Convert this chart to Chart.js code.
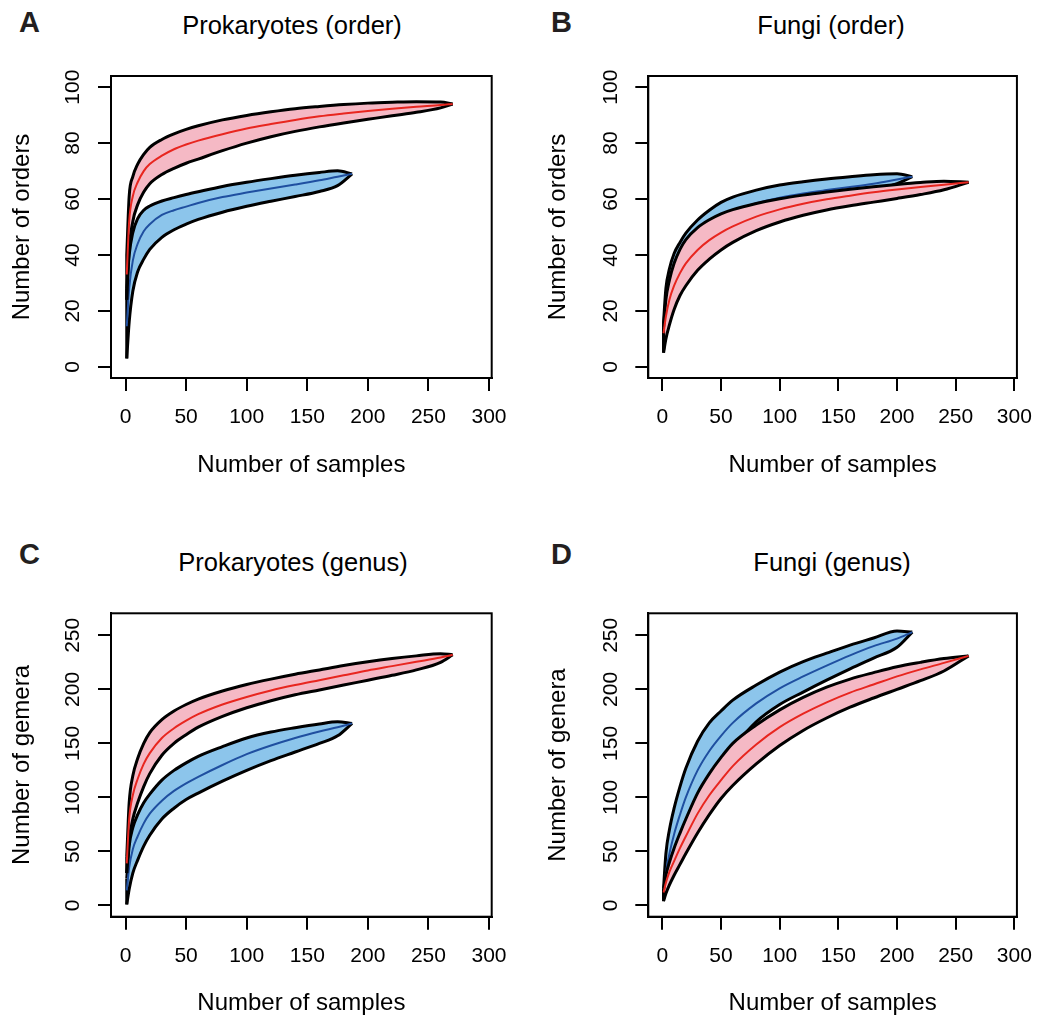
<!doctype html>
<html lang="en">
<head>
<meta charset="utf-8">
<title>Rarefaction curves</title>
<script src="https://cdn.jsdelivr.net/npm/chart.js"></script>
<style>
  body { margin: 0; background: #fff; }
  #page { position: relative; width: 1046px; height: 1019px; overflow: hidden; font-family: 'Liberation Sans', Arial, sans-serif; }
  canvas { position: absolute; }
  .ttl { position: absolute; transform: translate(-50%, -50%); font-size: 25.5px; color: #000; white-space: nowrap; }
  .lab { position: absolute; transform: translateY(-50%); font-size: 29px; font-weight: bold; color: #231f20; }
</style>
</head>
<body>
<div id="page">
  <div class="lab" style="left:19px; top:22px;">A</div>
  <div class="ttl" style="left:292px; top:25px;">Prokaryotes (order)</div>
  <div class="lab" style="left:551px; top:22px;">B</div>
  <div class="ttl" style="left:831px; top:25px;">Fungi (order)</div>
  <div class="lab" style="left:19px; top:554px;">C</div>
  <div class="ttl" style="left:293px; top:562px;">Prokaryotes (genus)</div>
  <div class="lab" style="left:551px; top:554px;">D</div>
  <div class="ttl" style="left:832px; top:562px;">Fungi (genus)</div>

  <canvas id="chartA" width="523" height="509" style="left:0px; top:0px;"></canvas>
  <canvas id="chartB" width="523" height="509" style="left:523px; top:0px;"></canvas>
  <canvas id="chartC" width="523" height="510" style="left:0px; top:509px;"></canvas>
  <canvas id="chartD" width="523" height="510" style="left:523px; top:509px;"></canvas>
</div>

<script>
// ---- data ----
// x = number of samples
const xTicks = [0, 50, 100, 150, 200, 250, 300];
const yTicksOrder = [0, 20, 40, 60, 80, 100];
const yTicksGenus = [0, 50, 100, 150, 200, 250];

const xsProkRed  = [1, 3, 6, 10, 15, 20, 30, 40, 50, 60, 80, 100, 120, 140, 160, 180, 200, 220, 240, 260, 270];
const xsProkBlue = [1, 3, 6, 10, 15, 20, 30, 40, 50, 60, 80, 100, 120, 140, 160, 175, 187];
const xsFungiRed  = [1, 3, 6, 10, 15, 20, 30, 40, 50, 60, 80, 100, 120, 140, 160, 180, 200, 220, 240, 261];
const xsFungiBlue = [1, 3, 6, 10, 15, 20, 30, 40, 50, 60, 80, 100, 120, 140, 160, 180, 200, 213];

// A: Prokaryotes (order)
const aRedMean  = [33, 52, 61, 66, 70, 72.5, 75.5, 77.8, 79.5, 80.9, 83.2, 85.2, 86.8, 88.3, 89.6, 90.6, 91.5, 92.3, 93, 93.6, 94];
const aRedUp    = [40, 61, 68, 72.5, 76, 78.5, 81.3, 83.3, 84.9, 86.2, 88.3, 89.9, 91.2, 92.3, 93.1, 93.8, 94.3, 94.6, 94.8, 94.7, 94];
const aRedLow   = [24, 42, 52, 58, 62.5, 65.5, 68.8, 71, 72.8, 74.3, 77.3, 80, 82.3, 84.2, 85.8, 87.2, 88.5, 89.8, 91, 92.6, 94];
const aBlueMean = [14.5, 28, 38, 44, 48.5, 51, 54.3, 56, 57.3, 58.6, 60.7, 62.3, 63.8, 65.2, 66.7, 68, 69];
const aBlueUp   = [28, 40, 48, 53, 56, 57.5, 59.3, 60.5, 61.6, 62.6, 64.5, 66, 67.3, 68.5, 69.5, 70.1, 69];
const aBlueLow  = [3, 16, 27, 34, 38.5, 42, 46.3, 49, 51, 52.7, 55.3, 57.4, 59.2, 60.9, 62.7, 64.8, 69];

// B: Fungi (order)
const bRedMean  = [12, 18, 24, 29, 33.5, 37, 41.8, 45.3, 48, 50.2, 53.7, 56.3, 58.3, 59.9, 61.2, 62.4, 63.4, 64.3, 65.1, 66];
const bRedUp    = [14, 24, 31, 37, 42, 45.5, 49.8, 52.6, 54.7, 56.2, 58.4, 60.1, 61.4, 62.5, 63.5, 64.4, 65.2, 65.9, 66.4, 66];
const bRedLow   = [5, 10, 15, 20.5, 25.5, 29, 34.5, 38.5, 41.8, 44.5, 48.7, 51.8, 54.2, 56.1, 57.6, 58.9, 60.2, 61.6, 63.3, 66];
const bBlueMean = [10, 20, 28, 34, 39, 42.5, 47.5, 51, 53.8, 55.8, 58.5, 60.5, 62, 63.2, 64.3, 65.5, 67, 68];
const bBlueUp   = [16, 28, 35, 40.5, 44.5, 47.8, 52.5, 56, 58.8, 60.7, 63.2, 65, 66.2, 67.2, 68, 68.7, 69, 68];
const bBlueLow  = [6, 13, 20, 27, 33, 37, 42.5, 46, 49, 51, 54, 56, 58, 59.5, 61, 63, 65.5, 68];

// C: Prokaryotes (genus)
const cRedMean  = [39, 80, 102, 117, 131, 141, 155, 164, 171, 177, 186, 193, 199, 204, 208.5, 213, 217.5, 221.5, 225.5, 229.5, 232];
const cRedUp    = [45, 95, 120, 136, 150, 160, 172, 180, 186, 191, 198.5, 204.5, 209.5, 214, 218, 222, 225.5, 228.5, 231, 233, 232];
const cRedLow   = [30, 60, 80, 95, 110, 122, 139, 150, 158, 165, 175, 183, 189.5, 195, 199.5, 204, 208.5, 213, 218, 225, 232];
const cBlueMean = [14, 35, 52, 64, 76, 85, 97, 106, 113, 119, 130, 140, 148, 155, 161, 165, 168.5];
const cBlueUp   = [25, 55, 72, 84, 95, 103, 116, 125, 132, 138, 147, 155, 160.5, 164.5, 168, 170, 168.5];
const cBlueLow  = [1, 15, 30, 42, 55, 65, 80, 90, 98, 104, 115, 125, 134, 142, 150, 157, 168.5];

// D: Fungi (genus)
const dRedMean  = [12, 21, 31, 41, 53, 64, 85, 102, 116, 129, 149, 165, 177.5, 188, 197, 204.5, 212, 218.5, 224.5, 231];
const dRedUp    = [14, 28, 40, 53, 67, 80, 104, 122, 137, 150, 167, 181, 192.5, 202, 209.5, 215.5, 221, 225, 228.5, 231];
const dRedLow   = [4, 11, 19, 28, 38, 48, 67, 84, 99, 111, 131, 148, 162, 173.5, 183.5, 192, 200, 208, 217, 231];
const dBlueMean = [10, 30, 48, 66, 84, 100, 125, 143, 157, 169, 187, 201, 212, 222, 231.5, 240, 247, 253];
const dBlueUp   = [16, 48, 70, 90, 110, 127, 152, 169, 180, 190, 204, 216, 225.7, 233.5, 241, 247.5, 254, 253];
const dBlueLow  = [6, 14, 24, 36, 52, 68, 97, 116, 132, 146, 170, 186, 197.5, 208.5, 219, 229, 239, 253];

// ---- colours ----
const pinkFill = '#f5b9c5';
const blueFill = '#8cc5eb';
const redLine = '#e8261f';
const blueLine = '#1f4fa0';

Chart.defaults.font.family = "'Liberation Sans', Arial, Helvetica, sans-serif";
Chart.defaults.color = '#000';

// box around the plot region, like R's box()
const boxPlugin = {
  id: 'box',
  afterDraw(chart) {
    const a = chart.chartArea, ctx = chart.ctx;
    ctx.save();
    ctx.strokeStyle = '#000';
    ctx.lineWidth = 2;
    ctx.strokeRect(a.left, a.top, a.right - a.left, a.bottom - a.top);
    ctx.restore();
  }
};

function pts(xs, ys) {
  return xs.map(function(x, i) { return {x: x, y: ys[i]}; });
}

// one shaded band: upper (filled down to lower), lower, closing edge at x=1, mean line
function band(xs, low, mean, up, fillCol, lineCol, base) {
  return [
    { data: pts(xs, up), fill: '+1', backgroundColor: fillCol, borderColor: '#000', borderWidth: 3, order: base + 3 },
    { data: pts(xs, low), fill: false, borderColor: '#000', borderWidth: 3, order: base + 2 },
    { data: [{x: xs[0], y: low[0]}, {x: xs[0], y: up[0]}], fill: false, borderColor: '#000', borderWidth: 3,
      cubicInterpolationMode: 'default', tension: 0, order: base + 1 },
    { data: pts(xs, mean), fill: false, borderColor: lineCol, borderWidth: 2, order: base }
  ];
}

// p: page geometry of the panel
function drawPanel(id, p, yTitle, yMin, yMax, yTicks, bands) {
  const lh = 24 * 1.2;
  new Chart(document.getElementById(id), {
    type: 'line',
    data: { datasets: bands },
    options: {
      responsive: false,
      animation: false,
      events: [],
      layout: { padding: { left: 0, top: p.boxT - p.top, right: p.left + p.w - p.boxR, bottom: 0 } },
      elements: { point: { radius: 0 }, line: { cubicInterpolationMode: 'monotone' } },
      plugins: { legend: { display: false }, tooltip: { enabled: false } },
      scales: {
        x: {
          type: 'linear', min: -12, max: 302.2,
          afterBuildTicks: function(s) { s.ticks = xTicks.map(function(v) { return {value: v}; }); },
          afterFit: function(s) { s.height = p.top + p.h - p.boxB; },
          grid: { drawOnChartArea: false, tickLength: 13, color: '#000', lineWidth: 2 },
          border: { color: '#000', width: 2 },
          ticks: { font: { size: 21 }, color: '#000', padding: 14, maxRotation: 0, autoSkip: false },
          title: { display: true, text: 'Number of samples', font: { size: 24 }, color: '#000',
                   padding: { top: 0, bottom: p.top + p.h - p.xTitleY - lh / 2 } }
        },
        y: {
          type: 'linear', min: yMin, max: yMax,
          afterBuildTicks: function(s) { s.ticks = yTicks.map(function(v) { return {value: v}; }); },
          afterFit: function(s) { s.width = p.boxL - p.left; },
          grid: { drawOnChartArea: false, tickLength: 13, color: '#000', lineWidth: 2 },
          border: { color: '#000', width: 2 },
          ticks: { font: { size: 21 }, color: '#000', padding: 7, minRotation: 90, maxRotation: 90,
                   crossAlign: 'center', autoSkip: false },
          title: { display: true, text: yTitle, font: { size: 24 }, color: '#000',
                   padding: { top: p.yTitleX - p.left - lh / 2, bottom: 0 } }
        }
      }
    },
    plugins: [boxPlugin]
  });
}

drawPanel('chartA',
  { left: 0, top: 0, w: 523, h: 509, boxL: 111, boxR: 491.7, boxT: 76, boxB: 378, yTitleX: 22, xTitleY: 465 },
  'Number of orders', -4, 104, yTicksOrder,
  band(xsProkBlue, aBlueLow, aBlueMean, aBlueUp, blueFill, blueLine, 4)
    .concat(band(xsProkRed, aRedLow, aRedMean, aRedUp, pinkFill, redLine, 0)));

drawPanel('chartB',
  { left: 523, top: 0, w: 523, h: 509, boxL: 648.3, boxR: 1026, boxT: 76, boxB: 378, yTitleX: 558.3, xTitleY: 465 },
  'Number of orders', -4, 104, yTicksOrder,
  band(xsFungiBlue, bBlueLow, bBlueMean, bBlueUp, blueFill, blueLine, 4)
    .concat(band(xsFungiRed, bRedLow, bRedMean, bRedUp, pinkFill, redLine, 0)));

drawPanel('chartC',
  { left: 0, top: 509, w: 523, h: 510, boxL: 111, boxR: 491.7, boxT: 613.3, boxB: 916.7, yTitleX: 22, xTitleY: 1003 },
  'Number of gemera', -10.4, 270.4, yTicksGenus,
  band(xsProkBlue, cBlueLow, cBlueMean, cBlueUp, blueFill, blueLine, 4)
    .concat(band(xsProkRed, cRedLow, cRedMean, cRedUp, pinkFill, redLine, 0)));

drawPanel('chartD',
  { left: 523, top: 509, w: 523, h: 510, boxL: 648.3, boxR: 1026, boxT: 613.3, boxB: 916.7, yTitleX: 558.3, xTitleY: 1003 },
  'Number of genera', -10.4, 270.4, yTicksGenus,
  band(xsFungiBlue, dBlueLow, dBlueMean, dBlueUp, blueFill, blueLine, 4)
    .concat(band(xsFungiRed, dRedLow, dRedMean, dRedUp, pinkFill, redLine, 0)));
</script>
</body>
</html>
